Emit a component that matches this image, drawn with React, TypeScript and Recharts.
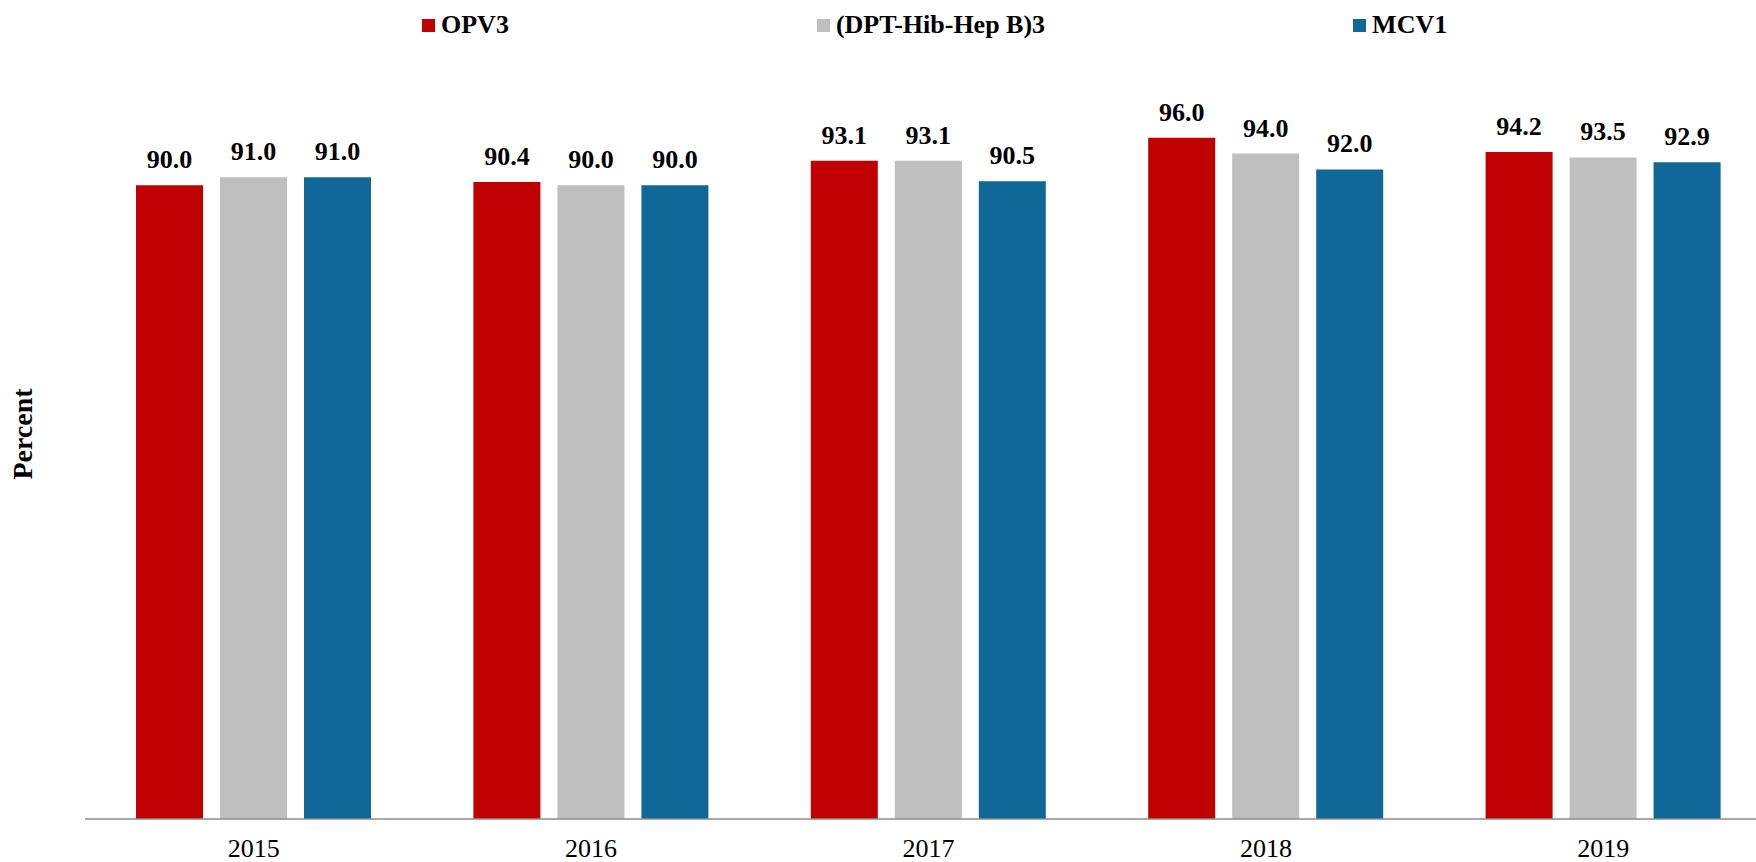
import React from "react";
import { BarChart, Bar, XAxis, YAxis, LabelList } from "recharts";

const years = ["2015", "2016", "2017", "2018", "2019"];
const opv3 = [90.0, 90.4, 93.1, 96.0, 94.2];
const dptHibHepB3 = [91.0, 90.0, 93.1, 94.0, 93.5];
const mcv1 = [91.0, 90.0, 90.5, 92.0, 92.9];

const seriesNames = ["OPV3", "(DPT-Hib-Hep B)3", "MCV1"];
const seriesKeys = ["opv3", "dpt", "mcv1"];
const seriesColors = ["#C00000", "#BFBFBF", "#0F6897"];

const data = years.map((year, i) => ({
    year,
    opv3: opv3[i],
    dpt: dptHibHepB3[i],
    mcv1: mcv1[i],
}));

const FONT = '"Liberation Serif", "Times New Roman", serif';

export default function App() {
    return (
        <div
            style={{
                position: "fixed",
                left: 0,
                top: 0,
                width: 1756,
                height: 862,
                overflow: "hidden",
                background: "#fff",
                fontFamily: FONT,
            }}
        >
            {/* legend */}
            <div
                style={{
                    position: "absolute",
                    left: 422,
                    top: 8,
                    display: "flex",
                    gap: 308,
                    alignItems: "center",
                    height: 34,
                }}
            >
                {seriesNames.map((name, i) => (
                    <div key={name} style={{ display: "flex", alignItems: "center" }}>
                        <span
                            style={{
                                display: "inline-block",
                                width: 13,
                                height: 13,
                                background: seriesColors[i],
                                marginRight: 6,
                            }}
                        />
                        <span style={{ fontSize: 26, fontWeight: "bold", color: "#000" }}>
                            {name}
                        </span>
                    </div>
                ))}
            </div>

            {/* y axis title */}
            <div
                style={{
                    position: "absolute",
                    left: 23,
                    top: 434,
                    transform: "translate(-50%, -50%) rotate(-90deg)",
                    fontSize: 28,
                    fontWeight: "bold",
                    whiteSpace: "nowrap",
                }}
            >
                Percent
            </div>

            <BarChart
                width={1772}
                height={862}
                data={data}
                margin={{ top: 106, right: 0, left: 85, bottom: 0 }}
                barCategoryGap={51}
                barGap={17}
            >
                <XAxis
                    dataKey="year"
                    height={43}
                    tickLine={false}
                    tickMargin={14}
                    axisLine={{ stroke: "#8c8c8c", strokeWidth: 1.5 }}
                    tick={{ fill: "#000", fontSize: 26, fontFamily: FONT }}
                />
                <YAxis hide domain={[10, 100]} />
                {seriesKeys.map((key, i) => (
                    <Bar
                        key={key}
                        dataKey={key}
                        name={seriesNames[i]}
                        fill={seriesColors[i]}
                        isAnimationActive={false}
                    >
                        <LabelList
                            dataKey={key}
                            position="top"
                            offset={17}
                            formatter={(v: number) => v.toFixed(1)}
                            style={{
                                fill: "#000",
                                fontSize: 26,
                                fontWeight: "bold",
                                fontFamily: FONT,
                            }}
                        />
                    </Bar>
                ))}
            </BarChart>
        </div>
    );
}
